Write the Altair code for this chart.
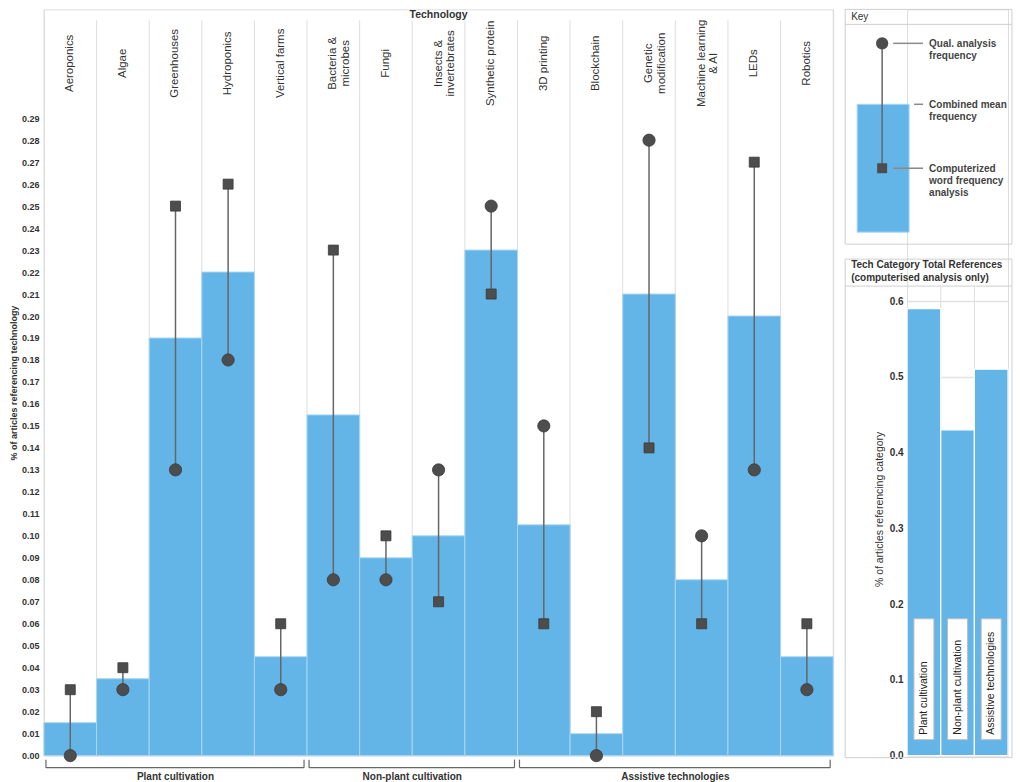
import altair as alt
import numpy as np
import pandas as pd

FONT = "Liberation Sans"
BLUE = "#64b5e7"
BAR_EDGE = "#a9d6f2"
MARKER = "#4d4d4d"
STEM = "#666666"
GRID = "#dedede"
TXT = "#333333"

# ---------------- data ----------------
TECHS = ["Aeroponics", "Algae", "Greenhouses", "Hydroponics", "Vertical farms",
         "Bacteria & microbes", "Fungi", "Insects & invertebrates", "Synthetic protein",
         "3D printing", "Blockchain", "Genetic modification", "Machine learning & AI",
         "LEDs", "Robotics"]
TECH_LABEL_LINES = [["Aeroponics"], ["Algae"], ["Greenhouses"], ["Hydroponics"], ["Vertical farms"],
                    ["Bacteria &", "microbes"], ["Fungi"], ["Insects &", "invertebrates"],
                    ["Synthetic protein"], ["3D printing"], ["Blockchain"],
                    ["Genetic", "modification"], ["Machine learning", "& AI"], ["LEDs"], ["Robotics"]]
GROUPS = (["Plant cultivation"] * 5 + ["Non-plant cultivation"] * 4
          + ["Assistive technologies"] * 6)
MEAN = [0.015, 0.035, 0.19, 0.22, 0.045, 0.155, 0.09, 0.10, 0.23, 0.105, 0.01, 0.21, 0.08, 0.20, 0.045]
QUAL = [0.00, 0.03, 0.13, 0.18, 0.03, 0.08, 0.08, 0.13, 0.25, 0.15, 0.00, 0.28, 0.10, 0.13, 0.03]
COMP = [0.03, 0.04, 0.25, 0.26, 0.06, 0.23, 0.10, 0.07, 0.21, 0.06, 0.02, 0.14, 0.06, 0.27, 0.06]
Y_TICKS = [round(i * 0.01, 2) for i in range(30)]

CATEGORIES = ["Plant cultivation", "Non-plant cultivation", "Assistive technologies"]
CAT_TOTAL = [0.59, 0.43, 0.51]
CAT_TICKS = [0.0, 0.1, 0.2, 0.3, 0.4, 0.5, 0.6]

AXIS_TITLE = "Technology"
Y_TITLE = "% of articles referencing technology"
CAT_Y_TITLE = "% of articles referencing category"
KEY_TITLE = "Key"
KEY_TEXTS = [["Qual. analysis", "frequency"], ["Combined mean", "frequency"],
             ["Computerized", "word frequency", "analysis"]]
CAT_PANEL_TITLE = ["Tech Category Total References", "(computerised analysis only)"]

# ---------------- tables ----------------
n = len(TECHS)
idx = np.arange(n)
main_df = pd.DataFrame({"tech": TECHS, "lines": TECH_LABEL_LINES, "group": GROUPS,
                        "mean": MEAN, "qual": QUAL, "comp": COMP,
                        "i0": idx, "i1": idx + 1, "ic": idx + 0.5})
bound_df = pd.DataFrame({"b": np.arange(n + 1)})
grp_rows = []
for g in dict.fromkeys(GROUPS):
    pos = [i for i, gg in enumerate(GROUPS) if gg == g]
    grp_rows.append({"group": g, "start": pos[0], "end": pos[-1] + 1,
                     "mid": (pos[0] + pos[-1] + 1) / 2})
grp_df = pd.DataFrame(grp_rows)

m = len(CATEGORIES)
cidx = np.arange(m)
cat_df = pd.DataFrame({"cat": CATEGORIES, "total": CAT_TOTAL,
                       "i0": cidx, "i1": cidx + 1, "ic": cidx + 0.5})
cbound_df = pd.DataFrame({"b": np.arange(1, m)})
ONE = pd.DataFrame({"k": [0]})

# ---------------- main chart ----------------
W, H = 790, 747
xs = alt.Scale(domain=[0, n], nice=False, zero=False)
ys = alt.Scale(domain=[0, 0.3395], nice=False, zero=True)
yaxis = alt.Axis(values=Y_TICKS, format=".2f", title=Y_TITLE, grid=False, ticks=False,
                 domain=False, labelPadding=5, labelFontSize=9, labelFontWeight="bold",
                 labelColor=TXT, titleFontSize=9, titleFontWeight="bold", titleColor=TXT,
                 titlePadding=3, labelFont=FONT, titleFont=FONT)


def Y(field):
    return alt.Y(field, scale=ys, axis=yaxis)


def X(field):
    return alt.X(field, scale=xs, axis=None)


inner_lines = alt.Chart(bound_df).transform_filter(
    f"datum.b > 0 && datum.b < {n}").mark_rule(color=GRID, strokeWidth=1).encode(
    x=X("b:Q"), y=alt.value(11), y2=alt.value(H))
outer_lines = alt.Chart(bound_df).transform_filter(
    f"datum.b == 0 || datum.b == {n}").mark_rule(color=GRID, strokeWidth=1).encode(
    x=X("b:Q"), y=alt.value(0), y2=alt.value(H))

base = alt.Chart(main_df)
bars = base.mark_rect(color=BLUE, stroke=BAR_EDGE, strokeWidth=1).encode(
    x=X("i0:Q"), x2="i1:Q", y=Y("mean:Q"), y2=alt.datum(0))
stems = base.mark_rule(color=STEM, strokeWidth=1.5).encode(
    x=X("ic:Q"), y=Y("qual:Q"), y2="comp:Q")
circles = base.mark_point(shape="circle", filled=True, size=150, color=MARKER, opacity=1,
                          stroke="#3a3a3a", strokeWidth=0.8).encode(x=X("ic:Q"), y=Y("qual:Q"))
squares = base.mark_point(shape="square", filled=True, size=100, color=MARKER, opacity=1,
                          stroke="#3a3a3a", strokeWidth=0.8).encode(x=X("ic:Q"), y=Y("comp:Q"))
headers = base.mark_text(angle=270, align="center", baseline="middle", fontSize=11.5,
                         color=TXT, lineHeight=12.5, font=FONT).encode(
    x=X("ic:Q"), y=alt.value(54), text="lines")
tech_title = alt.Chart(ONE).mark_text(fontSize=10.5, fontWeight="bold", color=TXT,
                                      baseline="middle", font=FONT).encode(
    x=alt.value(W / 2), y=alt.value(6), text=alt.value(AXIS_TITLE))

br_h = alt.Chart(grp_df).mark_rule(color="#666", strokeWidth=1.2, xOffset=2, x2Offset=-3).encode(
    x=X("start:Q"), x2="end:Q", y=alt.value(H + 12))
br_l = alt.Chart(grp_df).mark_rule(color="#666", strokeWidth=1.2, xOffset=2).encode(
    x=X("start:Q"), y=alt.value(H + 4), y2=alt.value(H + 12))
br_r = alt.Chart(grp_df).mark_rule(color="#666", strokeWidth=1.2, xOffset=-3).encode(
    x=X("end:Q"), y=alt.value(H + 4), y2=alt.value(H + 12))
br_t = alt.Chart(grp_df).mark_text(fontSize=10, fontWeight="bold", color=TXT,
                                   baseline="middle", font=FONT).encode(
    x=X("mid:Q"), y=alt.value(H + 21), text="group:N")

main = alt.layer(inner_lines, outer_lines, bars, stems, circles, squares, headers,
                 tech_title, br_h, br_l, br_r, br_t).properties(width=W, height=H)

# ---------------- right column (key + category chart) ----------------
W2, H2 = 101, 747
BOX_L, BOX_R = -62, W2 + 4
xs2 = alt.Scale(domain=[0, m], nice=False, zero=False)
ys2 = alt.Scale(domain=[0, 0.985], nice=False, zero=True)
yaxis2 = alt.Axis(values=CAT_TICKS, format=".1f", title=CAT_Y_TITLE, grid=True,
                  gridColor="#e2e2e2", gridWidth=1.5, ticks=False, domain=False,
                  labelPadding=4, labelFontSize=10, labelFontWeight="bold", labelColor=TXT,
                  titleFontSize=10.5, titleFontWeight="normal", titleColor=TXT, titleY=500,
                  titlePadding=5, labelFont=FONT, titleFont=FONT)

one = alt.Chart(ONE)


def box(y0, y1):
    return one.mark_rect(fillOpacity=0, stroke="#cfcfcf", strokeWidth=1).encode(
        x=alt.value(BOX_L), x2=alt.value(BOX_R), y=alt.value(y0), y2=alt.value(y1))


def hline(x0, x1, y, color="#cfcfcf", w=1.0):
    return one.mark_rule(color=color, strokeWidth=w).encode(
        x=alt.value(x0), x2=alt.value(x1), y=alt.value(y))


def label(text, x, y, size=10, weight="bold", color="#444444", lh=12):
    return one.mark_text(align="left", baseline="top", fontSize=size, fontWeight=weight,
                         color=color, lineHeight=lh, font=FONT).encode(
        x=alt.value(x), y=alt.value(y), text=alt.value(text))


KX = -25
key_layers = [
    box(0, 235),
    label(KEY_TITLE, -56, 3, size=10, weight="normal", color=TXT),
    hline(BOX_L, BOX_R, 15),
    one.mark_rect(color=BLUE, stroke=BAR_EDGE, strokeWidth=1).encode(
        x=alt.value(-50), x2=alt.value(2), y=alt.value(95), y2=alt.value(223)),
    one.mark_rule(color=STEM, strokeWidth=1.5).encode(
        x=alt.value(KX), y=alt.value(34), y2=alt.value(159)),
    one.mark_point(shape="circle", filled=True, size=150, color=MARKER, opacity=1).encode(
        x=alt.value(KX), y=alt.value(34)),
    one.mark_point(shape="square", filled=True, size=100, color=MARKER, opacity=1).encode(
        x=alt.value(KX), y=alt.value(159)),
    hline(-14, 16, 34, color="#8a8a8a", w=1.5),
    hline(7, 16, 95, color="#8a8a8a", w=1.5),
    hline(-14, 16, 159, color="#8a8a8a", w=1.5),
    label(KEY_TEXTS[0], 22, 29.5),
    label(KEY_TEXTS[1], 22, 90.5),
    label(KEY_TEXTS[2], 22, 154.5),
]

cbase = alt.Chart(cat_df)
cat_layers = [
    box(250, 749),
    label(CAT_PANEL_TITLE, -56, 251, size=10, weight="bold", color=TXT, lh=12.5),
    hline(BOX_L, BOX_R, 277),
    alt.Chart(cbound_df).mark_rule(color=GRID, strokeWidth=1).encode(
        x=alt.X("b:Q", scale=xs2, axis=None), y=alt.value(277), y2=alt.value(H2)),
    cbase.mark_rect(color=BLUE, stroke="#ffffff", strokeWidth=1.2).encode(
        x=alt.X("i0:Q", scale=xs2, axis=None), x2="i1:Q",
        y=alt.Y("total:Q", scale=ys2, axis=yaxis2), y2=alt.datum(0)),
    cbase.mark_rect(fill="#ffffff", stroke="#bdbdbd", strokeWidth=1, xOffset=-10,
                    x2Offset=10).encode(
        x=alt.X("ic:Q", scale=xs2, axis=None), x2="ic:Q",
        y=alt.value(H2 - 137), y2=alt.value(H2 - 16)),
    cbase.mark_text(angle=270, align="left", baseline="middle", fontSize=10.5,
                    color="#222222", font=FONT).encode(
        x=alt.X("ic:Q", scale=xs2, axis=None), y=alt.value(H2 - 21), text="cat:N"),
]

right = alt.layer(*key_layers, *cat_layers).properties(width=W2, height=H2)

chart = alt.hconcat(main, right, spacing=10).properties(
    padding=0, background="white"
).configure_view(strokeWidth=0).configure(font=FONT)

chart.save("out.html", embed_options={"renderer": "svg", "actions": False})
